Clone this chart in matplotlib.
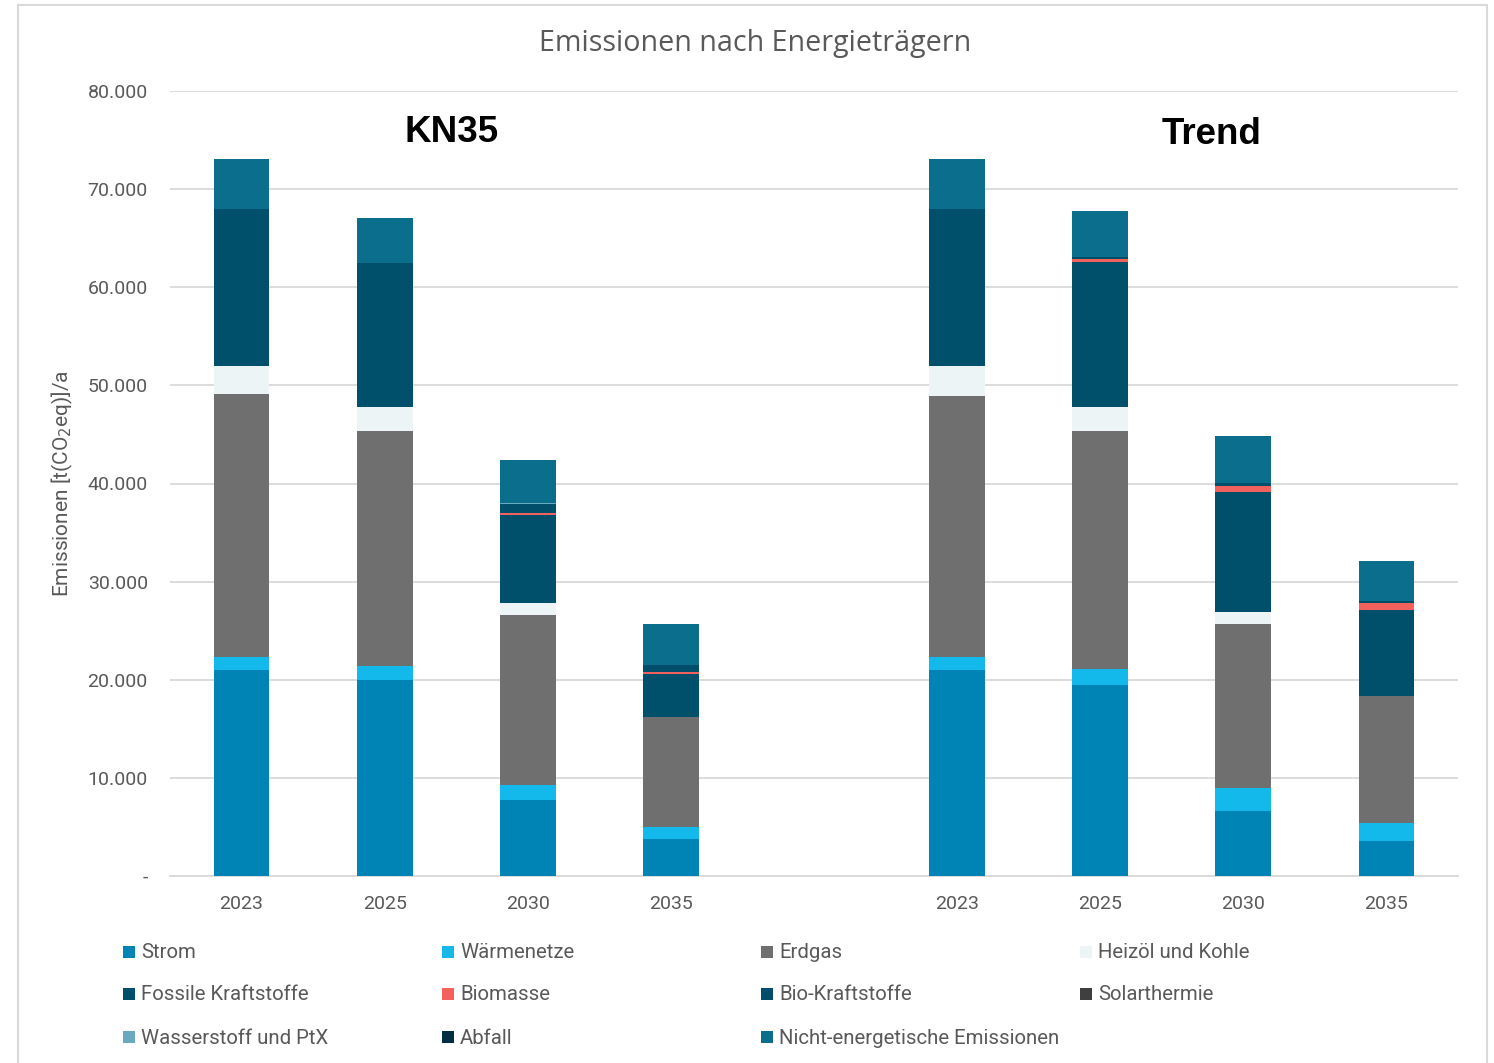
import matplotlib.pyplot as plt
import numpy as np
from matplotlib.patches import Rectangle

# categories: 4 KN35 years, one empty slot, 4 Trend years
years = ['2023', '2025', '2030', '2035', '', '2023', '2025', '2030', '2035']

series = ['Strom', 'Wärmenetze', 'Erdgas', 'Heizöl und Kohle',
          'Fossile Kraftstoffe', 'Biomasse', 'Bio-Kraftstoffe', 'Solarthermie',
          'Wasserstoff und PtX', 'Abfall', 'Nicht-energetische Emissionen']

colors = ['#0083B5', '#13B9EA', '#6F6F6F', '#EDF4F6',
          '#00506C', '#F2615B', '#004E6A', '#3F3F3F',
          '#6AAABE', '#002E40', '#0B6E8D']

# values in t CO2eq/a (KN35 2023..2035, gap, Trend 2023..2035)
strom       = [21000, 20000, 7750, 3770, 0, 21000, 19500, 6600, 3570]
waermenetze = [1300, 1400, 1500, 1230, 0, 1300, 1600, 2400, 1830]
erdgas      = [26800, 23950, 17350, 11200, 0, 26600, 24250, 16700, 12950]
heizoel     = [2900, 2450, 1200, 0, 0, 3100, 2450, 1200, 0]
fossile     = [16000, 14700, 9000, 4400, 0, 16000, 14800, 12250, 8750]
biomasse    = [0, 0, 200, 150, 0, 0, 250, 600, 750]
biokraft    = [0, 0, 900, 800, 0, 0, 250, 350, 150]
solar       = [0, 0, 0, 0, 0, 0, 0, 0, 0]
wasserstoff = [0, 0, 100, 0, 0, 0, 0, 0, 0]
abfall      = [0, 0, 0, 0, 0, 0, 0, 0, 0]
nicht_energ = [5100, 4550, 4400, 4150, 0, 5100, 4700, 4750, 4150]

data = [strom, waermenetze, erdgas, heizoel, fossile, biomasse, biokraft,
        solar, wasserstoff, abfall, nicht_energ]

plt.rcParams['font.family'] = ['Roboto', 'DejaVu Sans']

fig = plt.figure(figsize=(14.94, 10.63), dpi=100)
ax = fig.add_axes([170 / 1494, 1 - 876 / 1063, (1458 - 170) / 1494, (876 - 91) / 1063])

x = np.arange(len(years))
bottom = np.zeros(len(years))
for name, vals, col in zip(series, data, colors):
    vals = np.array(vals, dtype=float)
    ax.bar(x, vals, width=0.39, bottom=bottom, color=col, label=name, zorder=3)
    bottom += vals

ax.set_xlim(-0.5, len(years) - 0.5)
ax.set_ylim(0, 80000)
ax.set_yticks(np.arange(0, 80001, 10000))
ax.set_yticklabels(['-'] + [f'{v:,}'.replace(',', '.') for v in range(10000, 80001, 10000)])
ax.set_xticks(x)
ax.set_xticklabels(years)
ax.tick_params(axis='both', length=0, labelsize=14, labelcolor='#595959')
ax.tick_params(axis='y', pad=16)
ax.tick_params(axis='x', pad=14)
ax.grid(axis='y', color='#D9D9D9', linewidth=1.3, zorder=0)
for s in ['top', 'right', 'left']:
    ax.spines[s].set_visible(False)
ax.spines['bottom'].set_color('#D9D9D9')
ax.spines['bottom'].set_linewidth(1.3)

ax.set_ylabel('Emissionen [t(CO$_2$eq)]/a', fontsize=15, color='#595959', labelpad=9)

fig.text(755 / 1494, 1 - 44 / 1063, 'Emissionen nach Energieträgern',
         ha='center', va='center', fontsize=20.6, color='#595959',
         family=['Open Sans', 'DejaVu Sans'])
ax.text(1.47, 75800, 'KN35', ha='center', va='center', fontsize=26.5,
        fontweight='bold', family=['Liberation Sans'])
ax.text(6.78, 75600, 'Trend', ha='center', va='center', fontsize=26.5,
        fontweight='bold', family=['Liberation Sans'])

# legend in 4 columns, row-wise like Excel
handles, labels = ax.get_legend_handles_labels()
col_x = [123, 442, 761, 1080]
row_y = [952, 994, 1037]
for i, (h, lab) in enumerate(zip(handles, labels)):
    r, c = divmod(i, 4)
    px, py = col_x[c], row_y[r]
    fig.patches.append(Rectangle((px / 1494, 1 - (py + 6) / 1063), 12 / 1494, 12 / 1063,
                                 transform=fig.transFigure, facecolor=colors[i],
                                 edgecolor='none'))
    fig.text((px + 18) / 1494, 1 - (py + 1) / 1063, lab, ha='left', va='center',
             fontsize=14.7, color='#595959')

# chart border
fig.patches.append(Rectangle((18 / 1494, -0.01), (1487 - 18) / 1494, 1 - 5 / 1063 + 0.01,
                             transform=fig.transFigure, facecolor='none',
                             edgecolor='#D9D9D9', linewidth=1.5))

fig.savefig('out.png', dpi=100)
